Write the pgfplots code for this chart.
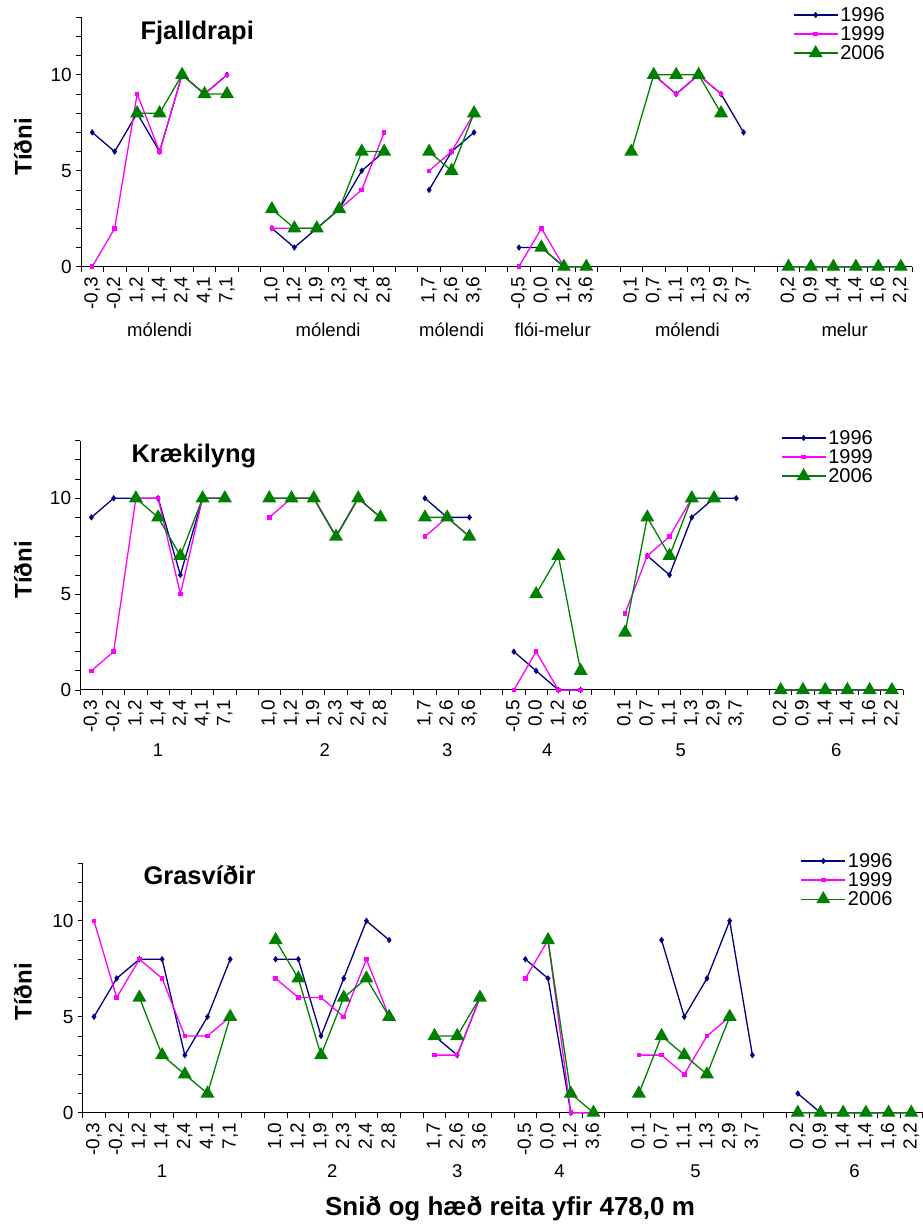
\documentclass[border=0pt]{standalone}
\usepackage{fontspec}
\setmainfont{Liberation Sans}
\usepackage{pgfplots}
\usepackage{pgfplotstable}
\pgfplotsset{compat=1.18}
\newcommand\fs[1]{\fontsize{#1}{#1}\selectfont}
\definecolor{cnavy}{RGB}{0,0,128}
\definecolor{cmag}{RGB}{255,0,255}
\definecolor{cgreen}{RGB}{0,128,0}

% x = category slot, a = 1996, b = 1999, c = 2006
\pgfplotstableread{
x a b c
0 7 0 nan
1 6 2 nan
2 8 9 8
3 6 6 8
4 10 10 10
5 9 9 9
6 10 10 9
7 nan nan nan
8 2 2 3
9 1 2 2
10 2 2 2
11 3 3 3
12 5 4 6
13 6 7 6
14 nan nan nan
15 4 5 6
16 6 6 5
17 7 8 8
18 nan nan nan
19 1 0 nan
20 1 2 1
21 0 0 0
22 0 0 0
23 nan nan nan
24 nan nan 6
25 10 10 10
26 9 9 10
27 10 10 10
28 9 9 8
29 7 nan nan
30 nan nan nan
31 0 0 0
32 0 0 0
33 0 0 0
34 0 0 0
35 0 0 0
36 0 0 0
}\tabA

\pgfplotstableread{
x a b c
0 9 1 nan
1 10 2 nan
2 10 10 10
3 10 10 9
4 6 5 7
5 10 10 10
6 10 10 10
7 nan nan nan
8 10 9 10
9 10 10 10
10 10 10 10
11 8 8 8
12 10 10 10
13 9 9 9
14 nan nan nan
15 10 8 9
16 9 9 9
17 9 8 8
18 nan nan nan
19 2 0 nan
20 1 2 5
21 0 0 7
22 0 0 1
23 nan nan nan
24 nan 4 3
25 7 7 9
26 6 8 7
27 9 10 10
28 10 10 10
29 10 nan nan
30 nan nan nan
31 0 0 0
32 0 0 0
33 0 0 0
34 0 0 0
35 0 0 0
36 0 0 0
}\tabB

\pgfplotstableread{
x a b c
0 5 10 nan
1 7 6 nan
2 8 8 6
3 8 7 3
4 3 4 2
5 5 4 1
6 8 5 5
7 nan nan nan
8 8 7 9
9 8 6 7
10 4 6 3
11 7 5 6
12 10 8 7
13 9 5 5
14 nan nan nan
15 4 3 4
16 3 3 4
17 6 6 6
18 nan nan nan
19 8 7 nan
20 7 9 9
21 0 0 1
22 0 0 0
23 nan nan nan
24 nan 3 1
25 9 3 4
26 5 2 3
27 7 4 2
28 10 5 5
29 3 nan nan
30 nan nan nan
31 1 0 0
32 0 0 0
33 0 0 0
34 0 0 0
35 0 0 0
36 0 0 0
}\tabC

\pgfplotsset{
  panel/.style={
    scale only axis,
    anchor=south west,
    xmin=-0.5, xmax=36.5,
    ymin=0, ymax=13,
    clip=false,
    unbounded coords=jump,
    axis x line=bottom, axis y line=left,
    axis line style={-, line width=1pt, black},
    tick align=outside,
    major tick length=5pt, minor tick length=5pt,
    xtick={0,1,2,3,4,5,6,8,9,10,11,12,13,15,16,17,19,20,21,22,24,25,26,27,28,29,31,32,33,34,35,36},
    xticklabels={{-0,3},{-0,2},{1,2},{1,4},{2,4},{4,1},{7,1},
                 {1,0},{1,2},{1,9},{2,3},{2,4},{2,8},
                 {1,7},{2,6},{3,6},
                 {-0,5},{0,0},{1,2},{3,6},
                 {0,1},{0,7},{1,1},{1,3},{2,9},{3,7},
                 {0,2},{0,9},{1,4},{1,4},{1,6},{2,2}},
    minor xtick={-0.5,0.5,...,36.5},
    major x tick style={draw=none},
    every tick/.style={black, line width=0.8pt},
    ytick={0,5,10},
    minor ytick={1,2,3,4,6,7,8,9,11,12,13},
    xticklabel style={rotate=90, anchor=east, inner sep=0pt, font=\fs{19}},
    xticklabel shift=5pt,
    yticklabel style={inner sep=0pt, font=\fs{19}},
    yticklabel shift=4pt,
    /pgf/number format/assume math mode=true,
    legend style={draw=none, fill=none, font=\fs{20}, anchor=north east,
      row sep=0pt, nodes={inner xsep=2pt, inner ysep=1.8pt}},
    legend cell align=left,
    legend image code/.code={\draw[mark repeat=2, mark phase=2, ##1] plot coordinates {(0pt,0pt) (22pt,0pt) (44pt,0pt)};},
  },
  s96/.style={cnavy, line width=1.3pt, mark=diamond*, mark size=2.2pt, mark options={solid}},
  s99/.style={cmag, line width=1.3pt, mark=square*, mark size=1.6pt, mark options={solid}},
  s06/.style={cgreen, line width=1.3pt, mark=triangle*, mark size=6.8pt, mark options={solid}},
}

\begin{document}
\begin{tikzpicture}
\useasboundingbox (0pt,0pt) rectangle (923pt,1231pt);

% ---------- Panel 1 ----------
\begin{axis}[panel, at={(81pt,964.3pt)}, width=831pt, height=249.4pt,
  legend style={at={(1,1)}, xshift=-22pt, yshift=14pt}]
\addplot[s96] table[x=x,y=a]{\tabA};
\addplot[s99] table[x=x,y=b]{\tabA};
\addplot[s06] table[x=x,y=c]{\tabA};
\legend{1996,1999,2006}
\node[font=\fs{18.5}, anchor=base] at (axis cs:3,0) [yshift=-70pt] {mólendi};
\node[font=\fs{18.5}, anchor=base] at (axis cs:10.5,0) [yshift=-70pt] {mólendi};
\node[font=\fs{18.5}, anchor=base] at (axis cs:16,0) [yshift=-70pt] {mólendi};
\node[font=\fs{18.5}, anchor=base] at (axis cs:20.5,0) [yshift=-70pt] {flói-melur};
\node[font=\fs{18.5}, anchor=base] at (axis cs:26.5,0) [yshift=-70pt] {mólendi};
\node[font=\fs{18.5}, anchor=base] at (axis cs:33.5,0) [yshift=-70pt] {melur};
\end{axis}

% ---------- Panel 2 ----------
\begin{axis}[panel, at={(80.3pt,541pt)}, width=822.7pt, height=249.3pt,
  legend style={at={(1,1)}, xshift=-25pt, yshift=14.5pt}]
\addplot[s96] table[x=x,y=a]{\tabB};
\addplot[s99] table[x=x,y=b]{\tabB};
\addplot[s06] table[x=x,y=c]{\tabB};
\legend{1996,1999,2006}
\node[font=\fs{18.5}, anchor=base] at (axis cs:3,0) [yshift=-67pt] {1};
\node[font=\fs{18.5}, anchor=base] at (axis cs:10.5,0) [yshift=-67pt] {2};
\node[font=\fs{18.5}, anchor=base] at (axis cs:16,0) [yshift=-67pt] {3};
\node[font=\fs{18.5}, anchor=base] at (axis cs:20.5,0) [yshift=-67pt] {4};
\node[font=\fs{18.5}, anchor=base] at (axis cs:26.5,0) [yshift=-67pt] {5};
\node[font=\fs{18.5}, anchor=base] at (axis cs:33.5,0) [yshift=-67pt] {6};
\end{axis}

% ---------- Panel 3 ----------
\begin{axis}[panel, at={(82.65pt,118.3pt)}, width=840pt, height=249.4pt,
  legend style={at={(1,1)}, xshift=-25pt, yshift=14pt}]
\addplot[s96] table[x=x,y=a]{\tabC};
\addplot[s99] table[x=x,y=b]{\tabC};
\addplot[s06] table[x=x,y=c]{\tabC};
\legend{1996,1999,2006}
\node[font=\fs{18.5}, anchor=base] at (axis cs:3,0) [yshift=-65pt] {1};
\node[font=\fs{18.5}, anchor=base] at (axis cs:10.5,0) [yshift=-65pt] {2};
\node[font=\fs{18.5}, anchor=base] at (axis cs:16,0) [yshift=-65pt] {3};
\node[font=\fs{18.5}, anchor=base] at (axis cs:20.5,0) [yshift=-65pt] {4};
\node[font=\fs{18.5}, anchor=base] at (axis cs:26.5,0) [yshift=-65pt] {5};
\node[font=\fs{18.5}, anchor=base] at (axis cs:33.5,0) [yshift=-65pt] {6};
\end{axis}

% titles and labels
\node[font=\bfseries\fs{25.5}, anchor=base west] at (137pt,1191pt) {Fjalldrapi};
\node[font=\bfseries\fs{25.5}, anchor=base west] at (128pt,768pt) {Krækilyng};
\node[font=\bfseries\fs{25.5}, anchor=base west] at (140pt,346pt) {Grasvíðir};
\node[font=\bfseries\fs{24}, rotate=90] at (23pt,1084pt) {Tíðni};
\node[font=\bfseries\fs{24}, rotate=90] at (23pt,661pt) {Tíðni};
\node[font=\bfseries\fs{24}, rotate=90] at (23pt,239pt) {Tíðni};
\node[font=\bfseries\fs{26}, anchor=base] at (510pt,16pt) {Snið og hæð reita yfir 478,0 m};
\end{tikzpicture}
\end{document}
